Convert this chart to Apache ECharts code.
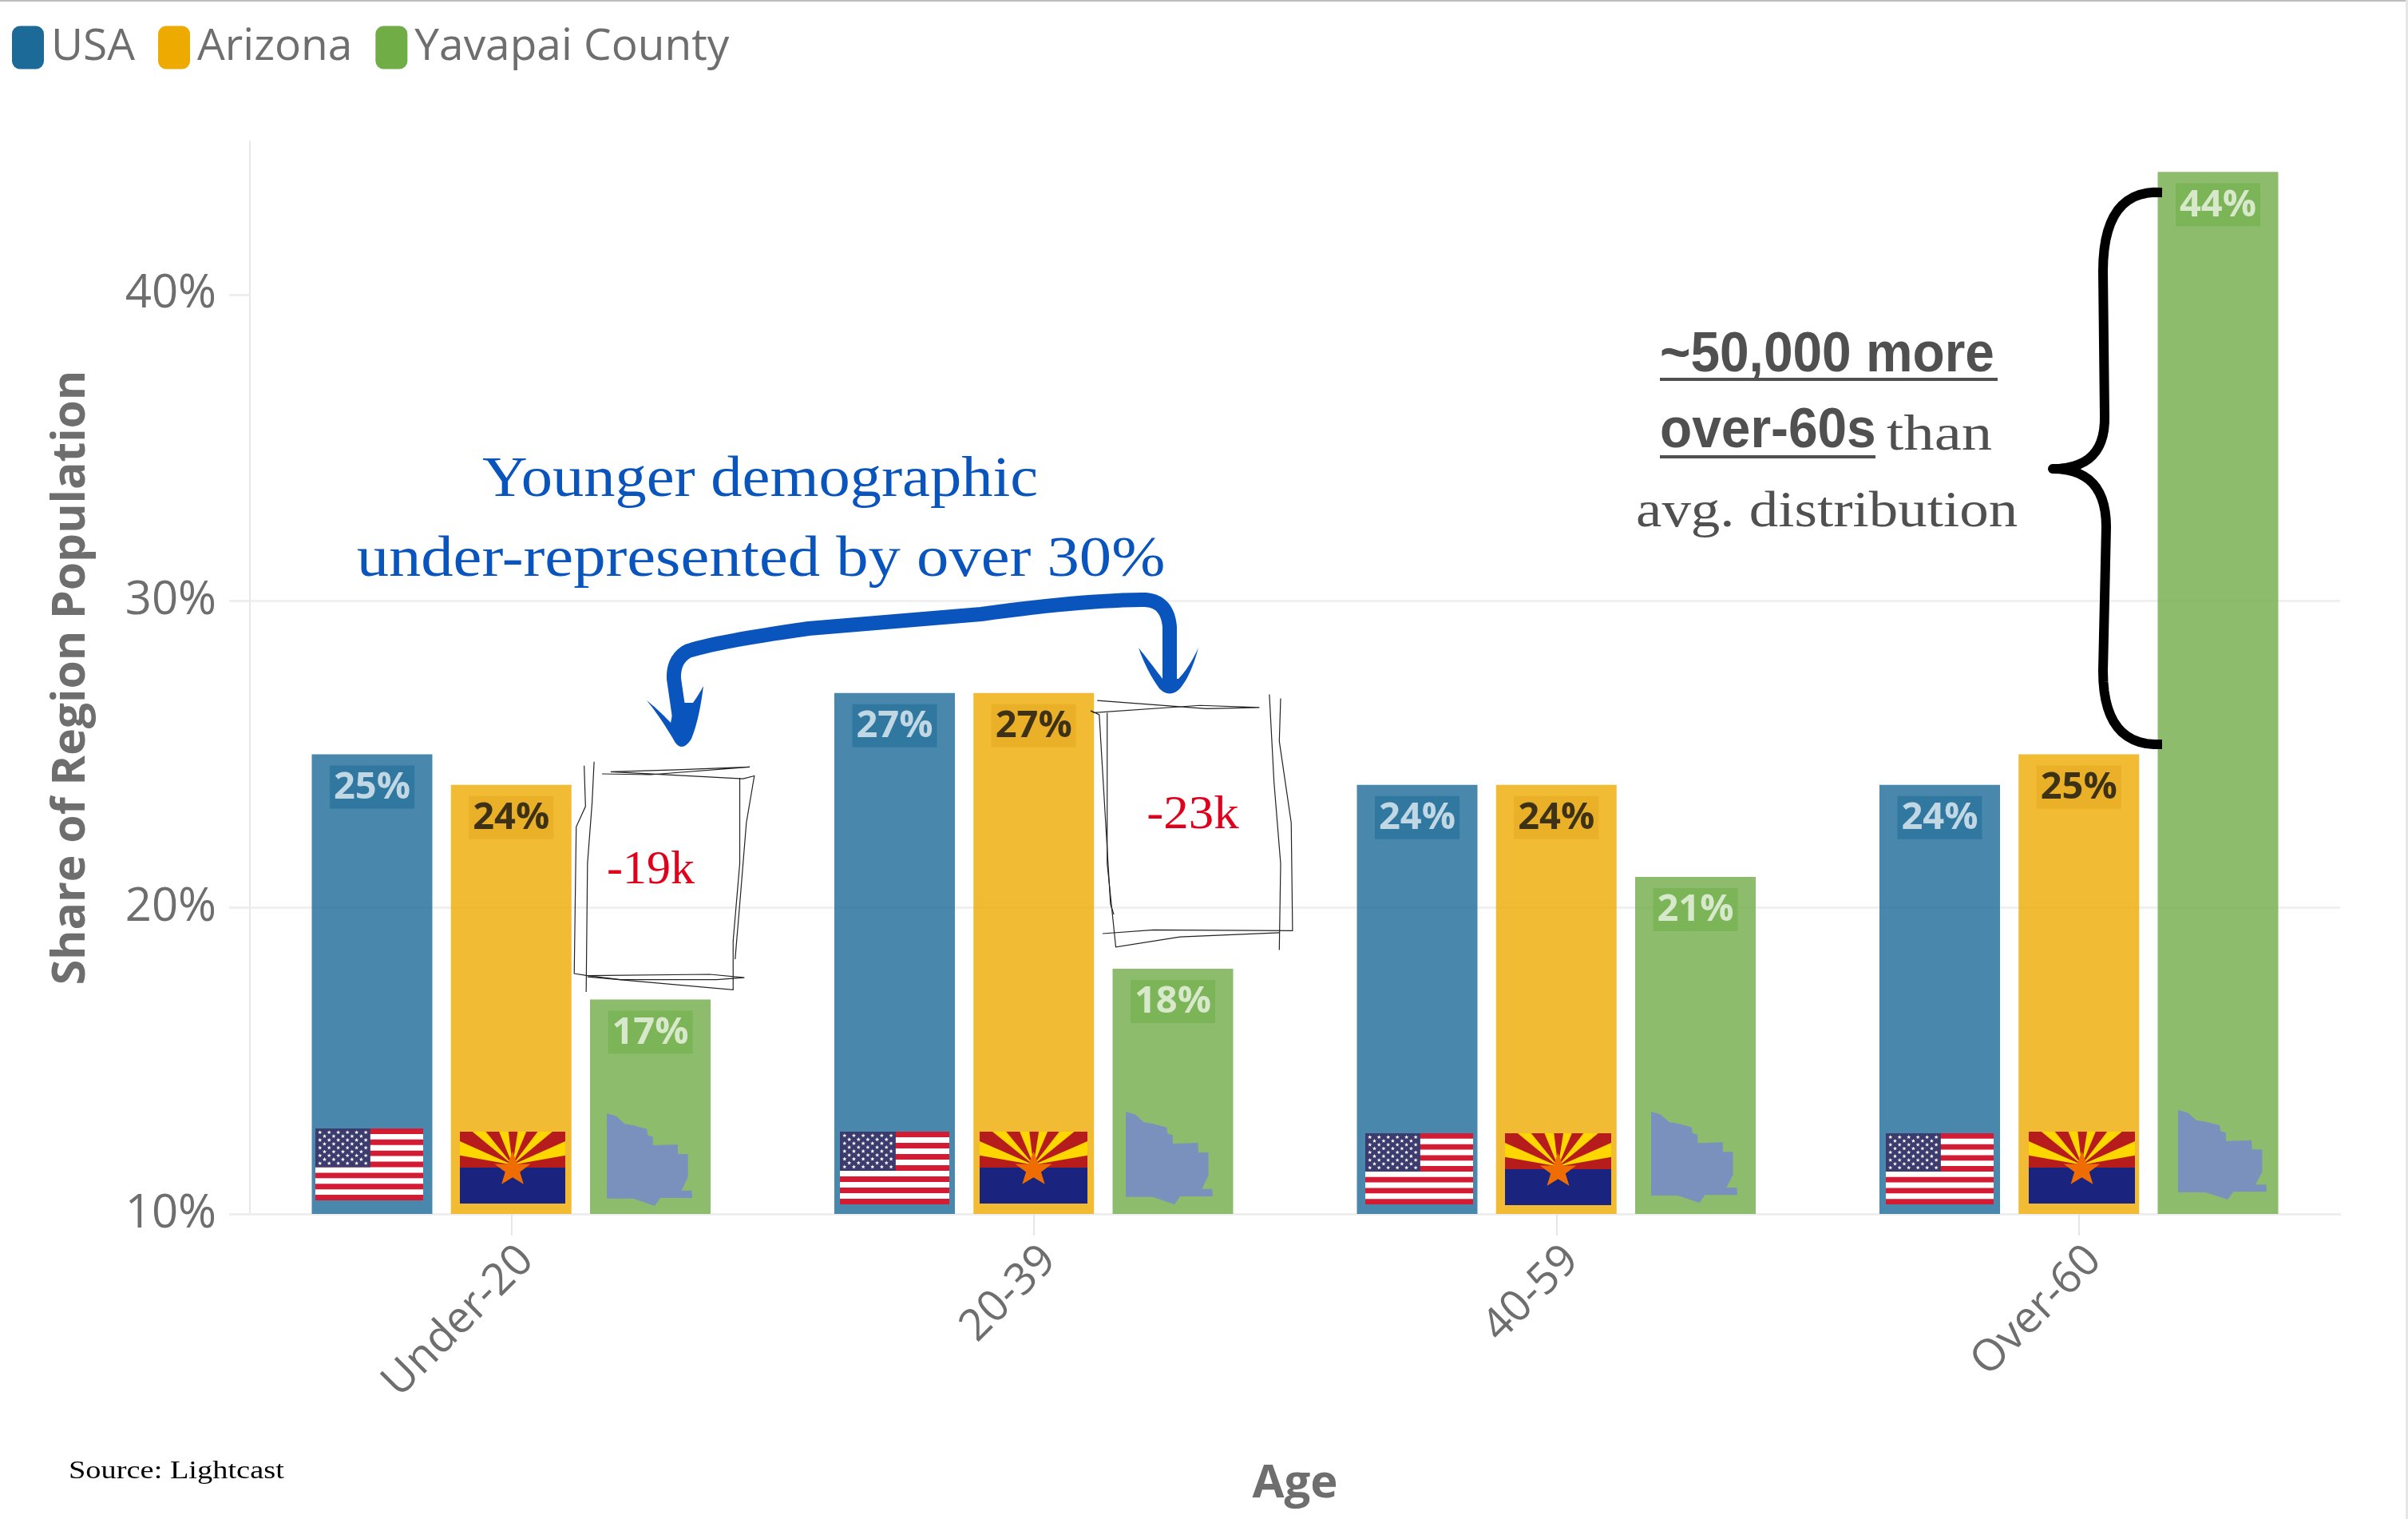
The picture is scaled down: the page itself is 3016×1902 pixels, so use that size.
<!DOCTYPE html>
<html><head><meta charset="utf-8">
<style>html,body{margin:0;padding:0;background:#fff}#c{width:3016px;height:1902px}</style>
<script src="https://cdn.jsdelivr.net/npm/echarts@6/dist/echarts.min.js"></script>
</head><body><div id="c"></div>
<script>
const categories = ['Under-20','20-39','40-59','Over-60'];
const usa = [25,27,24,24];
const arizona = [24,27,24,25];
const yavapai = [17,18,21,44];
const yTicks = [10,20,30,40];
const seriesNames = ['USA','Arizona','Yavapai County'];
const uiFont = '"Open Sans"', serif = '"Liberation Serif"', sans = '"Liberation Sans"';
const grey = '#6e6e6e';

function lab(color, bg){
  return {show:true, position:'insideTop', distance:14, formatter:'{c}%', color:color, fontFamily:uiFont,
    fontWeight:'bold', fontSize:47, lineHeight:52, backgroundColor:bg, padding:[2,5,0,5]};
}
function bar(name,data,color,labelColor,labelBg){
  return {name, type:'bar', data, barWidth:151, barGap:'15.4%',
    itemStyle:{color, opacity:0.8}, label:lab(labelColor,labelBg), z:2};
}
const G = [];
// ---- helpers for decoration
function poly(points,fill,z){G.push({type:'polygon',shape:{points},style:{fill},z:z||10,silent:true});}
function rect(x,y,w,h,fill,z){G.push({type:'rect',shape:{x,y,width:w,height:h},style:{fill},z:z||10,silent:true});}
function line(points,stroke,w,smooth){G.push({type:'polyline',shape:{points,smooth:smooth||0},style:{stroke,lineWidth:w,fill:null},z:11,silent:true});}
// expands a tiny "M x y L x y Q cx cy x y" string to points
function pts(d){
  const t=d.match(/[MLQ]|-?\d+\.?\d*/g);const out=[];let i=0,cur=[0,0];
  while(i<t.length){
    const c=t[i++];
    if(c==='M'||c==='L'){cur=[+t[i],+t[i+1]];i+=2;out.push(cur);}
    else if(c==='Q'){
      const cx=+t[i],cy=+t[i+1],x=+t[i+2],y=+t[i+3];i+=4;
      for(let k=1;k<=14;k++){const s=k/14,a=(1-s)*(1-s),b=2*s*(1-s),e=s*s;out.push([a*cur[0]+b*cx+e*x,a*cur[1]+b*cy+e*y]);}
      cur=[x,y];
    }
  }
  return out;
}
function stroke(d,color,w,cap){G.push({type:'polyline',shape:{points:pts(d)},style:{stroke:color,lineWidth:w,fill:null,lineCap:cap||'butt',lineJoin:'round'},z:11,silent:true});}
function fillPath(d,color){poly(pts(d),color,12);}
const mid={[serif]:0.3375,[sans]:0.3465};
function text(str,x,baseline,size,fam,weight,fill,align,scaleX){
  G.push({type:'text',x,y:baseline-mid[fam]*size,scaleX:scaleX||1,originX:0,originY:0,z:12,silent:true,
    style:{text:str,font:weight+' '+size+'px '+fam,fill,textAlign:align||'left',textVerticalAlign:'middle',verticalAlign:'middle'}});
}
function star(cx,cy,r,fill,z){
  const p=[];for(let i=0;i<10;i++){const a=-Math.PI/2+i*Math.PI/5,q=i%2?r*0.42:r;p.push([cx+q*Math.cos(a),cy+q*Math.sin(a)]);}
  poly(p,fill,z||13);
}
function usFlag(x,y,w,h){
  const sh=h/13;
  rect(x,y,w,h,'#ffffff',10);
  for(let i=0;i<13;i+=2) rect(x,y+i*sh,w,sh,'#d31c34',10);
  const cw=w*0.51,ch=sh*7;
  rect(x,y,cw,ch,'#3c3b6e',11);
  for(let r=0;r<9;r++){
    const n=r%2?5:6;
    for(let c=0;c<n;c++){
      const sx=x+cw*((c+(r%2?1:0.5))/6), sy=y+ch*((r+1)/10);
      star(sx,sy,h*0.03,'#ffffff',12);
    }
  }
}
const azRays=[[[0,.134],[0,.33]],[[.119,0],[.246,0]],[[.372,0],[.461,0]],[[.549,0],[.63,0]],[[.739,0],[.878,0]],[[1,.134],[1,.33]]];
function azFlag(x,y,w,h){
  const u=(a,b)=>[x+a*w,y+b*h];
  rect(x,y,w,h/2,'#b71c1c',10);
  rect(x,y+h/2,w,h/2,'#1a237e',10);
  const c=u(0.5,0.46);
  azRays.forEach(q=>poly([c,u(q[0][0],q[0][1]),u(q[1][0],q[1][1])],'#fed700',11));
  G.push({type:'polygon',z:12,silent:true,style:{fill:'#ef6c00'},shape:{points:[[.5,.275],[.545,.45],[.67,.45],[.57,.56],[.605,.73],[.5,.635],[.395,.73],[.43,.56],[.33,.45],[.455,.45]].map(p=>u(p[0],p[1]))}});
}
const countyShape=[[0,0],[.11,.03],[.21,.115],[.31,.13],[.47,.17],[.48,.236],[.54,.253],[.54,.345],[.83,.336],[.834,.44],[.95,.44],[.95,.69],[.875,.833],[.994,.833],[1,.914],[.625,.914],[.56,1],[.31,.92],[0,.92]];
function county(x,y,w,h){
  poly(countyShape.map(p=>[x+p[0]*w,y+p[1]*h]),'#7a91bd',10);
}
[[395,1413,135,90],[1052,1417,137,91],[1710,1419,135,89],[2362,1419,135,89]].forEach(a=>usFlag(...a));
[[576,1417,132,90],[1227,1417,135,90],[1885,1419,133,90],[2541,1417,133,90]].forEach(a=>azFlag(...a));
[[760,1394,107,116],[1410,1392,109,116],[2068,1392,108,114],[2728,1390,111,112]].forEach(a=>county(...a));

// frame hairlines
rect(0,0,3016,2,'#bdbdbd',1);
rect(3013,0,3,1902,'#e6e6e6',1);

// annotation: blue title + arrow
const blue='#0a55bd';
text('Younger demographic',952,626,72,serif,'normal',blue,'center',1.09);
text('under-represented by over 30%',953,726,72,serif,'normal',blue,'center',1.12);
stroke('M852 905 L844 850 Q843 825 862 815 Q900 803 1013 787 L1229 769 Q1350 752 1430 751 Q1462 750 1465 785 L1465 850',blue,18,'round');
fillPath('M810 877 Q826 890 840 905 L845 880 L868 880 Q875 870 881 859 Q876 900 866 925 Q853 945 843 925 Q825 895 810 877',blue);
fillPath('M1426 811 Q1445 835 1456 850 L1476 850 Q1490 835 1501 811 Q1492 845 1478 862 Q1465 875 1452 862 Q1436 840 1426 811',blue);

// sketched boxes, coordinates measured on the reference annotation
const zx=x=>400+x/1.206, zy=y=>520+y/1.96;
const sk=a=>a.map(p=>[zx(p[0]),zy(p[1])]);
[
 [[415,850],[412,950],[405,1100],[403,1415]],
 [[400,860],[402,960],[388,1010],[385,1370],[405,1375],[590,1372],[642,1380],[600,1385],[455,1385],[405,1375]],
 [[427,880],[500,882],[650,863],[540,870],[440,875],[640,892],[657,885],[645,1000],[635,1200],[628,1335]],
 [[635,890],[635,1100],[625,1290],[625,1410],[405,1378]],
 [[1175,700],[1340,720],[1420,717],[1330,712],[1170,730],[1165,725],[1178,735],[1195,1200],[1200,1225]],
 [[1190,730],[1190,1100],[1203,1305],[1300,1280],[1450,1270]],
 [[1183,1272],[1260,1263],[1470,1265],[1468,1000],[1450,800],[1452,695]],
 [[1435,685],[1442,900],[1452,1100],[1450,1312]]
].forEach(a=>line(sk(a),'#222222',1.2,0));
text('-19k',815,1110,60,serif,'normal','#e0001b','center',1);
text('-23k',1494,1041,60,serif,'normal','#e0001b','center',1.05);

// annotation: brace and callout
stroke('M2708 241 Q2634 236 2634 340 L2636 520 Q2638 587 2571 587 Q2638 587 2638 660 L2634 840 Q2634 936 2708 932','#000000',12);
const dk='#505050';
text('~50,000 more',2079,470,70,sans,'bold',dk,'left',0.94);
rect(2079,473,423,4,dk,12);
text('over-60s',2079,565,70,sans,'bold',dk,'left',0.94);
rect(2079,570,270,4,dk,12);
text('than',2363,568,64,serif,'normal',dk,'left',1.2);
text('avg. distribution',2049,664,64,serif,'normal',dk,'left',1.14);
text('Source: Lightcast',86,1853,32,serif,'normal','#000000','left',1.2);

const chart=echarts.init(document.getElementById('c'),null,{renderer:'canvas'});
chart.setOption({
  backgroundColor:'#ffffff',
  animation:false,
  legend:{show:true,left:10,top:27,itemWidth:40,itemHeight:54,itemGap:29,icon:'roundRect',
    itemStyle:{opacity:1},
    textStyle:{fontFamily:uiFont,fontSize:55,color:grey,padding:[0,0,0,4]},
    data:seriesNames},
  grid:{left:313,right:85,top:177,bottom:382,containLabel:false},
  xAxis:{type:'category',data:categories,name:'Age',nameLocation:'middle',nameGap:309,
    nameTextStyle:{fontFamily:uiFont,fontWeight:'bold',fontSize:58,color:grey},
    axisLine:{show:true,lineStyle:{color:'#eeeeee',width:3}},
    axisTick:{show:true,alignWithLabel:true,length:27,lineStyle:{color:'#e6e6e6',width:2}},
    axisLabel:{rotate:45,verticalAlign:'top',fontFamily:uiFont,fontSize:55,color:grey,margin:30,interval:0}},
  yAxis:{type:'value',min:10,max:45,interval:10,name:'Share of Region Population',nameLocation:'middle',nameGap:195,
    nameTextStyle:{fontFamily:uiFont,fontWeight:'bold',fontSize:57,color:grey},
    axisLine:{show:true,lineStyle:{color:'#e8e8e8',width:2}},
    axisTick:{show:true,length:26,customValues:yTicks,lineStyle:{color:'#eeeeee',width:3}},
    axisLabel:{formatter:'{value}%',customValues:yTicks,fontFamily:uiFont,fontSize:58,color:grey,margin:42},
    splitLine:{show:true,showMaxLine:false,lineStyle:{color:'#f0f0f0',width:3}}},
  series:[
    bar(seriesNames[0],usa,'#1b6a97','#e6eff5','#2b749d'),
    bar(seriesNames[1],arizona,'#edaa00','#111111','#e7ae26'),
    bar(seriesNames[2],yavapai,'#70ad47','#eef5e8','#78b254')
  ],
  graphic:{elements:G}
});
</script></body></html>
